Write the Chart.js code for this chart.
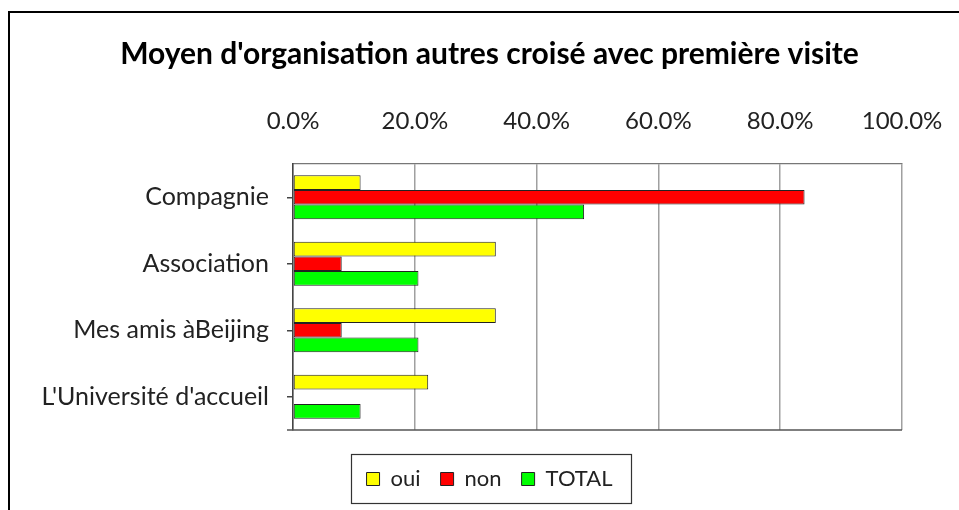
<!DOCTYPE html>
<html>
<head>
<meta charset="utf-8">
<script src="https://cdn.jsdelivr.net/npm/chart.js@4"></script>
<style>
  html, body { margin: 0; padding: 0; background: #fff; overflow: hidden; }
  #wrap { position: relative; width: 959px; height: 510px; }
  #frame { position: absolute; left: 8px; top: 11px; width: 1000px; height: 600px; border: 2px solid #000; box-sizing: border-box; }
  canvas { position: absolute; left: 0; top: 0; }
</style>
</head>
<body>
<div id="wrap">
  <div id="frame"></div>
  <canvas id="chart" width="959" height="510"></canvas>
</div>
<script>
const categories = ['Compagnie', 'Association', 'Mes amis àBeijing', "L'Université d'accueil"];
const seriesNames = ['oui', 'non', 'TOTAL'];
const ouiValues = [11.1, 33.3, 33.3, 22.2];
const nonValues = [84.0, 8.0, 8.0, 0];
const totalValues = [47.8, 20.6, 20.6, 11.1];
const seriesColors = ['#ffff00', '#ff0000', '#00ff00'];
const tickValues = [0, 20, 40, 60, 80, 100];

const FONT = 'Lato, "Open Sans", sans-serif';

// lines Excel draws that Chart.js doesn't: bottom edge of the plot, box round the legend
const extras = {
    id: 'extras',
    afterDraw(chart) {
        const ctx = chart.ctx;
        const a = chart.chartArea;
        ctx.save();
        ctx.strokeStyle = '#555';
        ctx.lineWidth = 1.5;
        ctx.beginPath();
        ctx.moveTo(a.left - 6, a.bottom);
        ctx.lineTo(a.right, a.bottom);
        ctx.stroke();

        const boxes = chart.legend.legendHitBoxes;
        if (boxes && boxes.length) {
            const x0 = Math.min(...boxes.map(b => b.left)) - 16;
            const x1 = Math.max(...boxes.map(b => b.left + b.width)) + 18;
            const y0 = Math.min(...boxes.map(b => b.top)) - 14;
            const y1 = Math.max(...boxes.map(b => b.top + b.height)) + 13;
            ctx.strokeStyle = '#333';
            ctx.lineWidth = 1.2;
            ctx.strokeRect(Math.round(x0) + 0.5, Math.round(y0) + 0.5, Math.round(x1 - x0), Math.round(y1 - y0));
        }
        ctx.restore();
    }
};

// invisible axes used only as spacers
const spacer = size => ({
    display: true,
    ticks: { display: false },
    grid: { display: false },
    border: { display: false },
    afterFit: scale => {
        if (scale.isHorizontal()) scale.height = size; else scale.width = size;
    }
});

new Chart(document.getElementById('chart'), {
    type: 'bar',
    data: {
        labels: categories,
        datasets: [ouiValues, nonValues, totalValues].map((values, i) => ({
            label: seriesNames[i],
            data: values,
            backgroundColor: seriesColors[i],
            borderColor: '#222',
            borderWidth: 1,
            borderSkipped: false,
            categoryPercentage: 0.66,
            barPercentage: 1.0
        }))
    },
    options: {
        indexAxis: 'y',
        responsive: false,
        animation: false,
        layout: { padding: { left: 20, right: 0, top: 36, bottom: 10 } },
        scales: {
            x: {
                position: 'top',
                min: 0,
                max: 100,
                afterBuildTicks: scale => { scale.ticks = tickValues.map(v => ({ value: v })); },
                afterFit: scale => {
                    scale.height = 92;
                    scale.paddingLeft = 0;
                    scale.paddingRight = 0;
                },
                ticks: {
                    padding: 28,
                    color: '#222',
                    font: { family: FONT, size: 24 },
                    callback: v => v.toFixed(1) + '%'
                },
                grid: { color: '#a0a0a0', lineWidth: 1.5, drawTicks: false },
                border: { color: '#777', width: 1.2 }
            },
            xBottom: Object.assign({ type: 'linear', position: 'bottom' }, spacer(18)),
            y: {
                afterFit: scale => { scale.width = 273; },
                ticks: {
                    padding: 18,
                    color: '#222',
                    font: { family: FONT, size: 25 }
                },
                grid: { offset: false, drawOnChartArea: false, tickLength: 6, color: '#444', lineWidth: 1.5 },
                border: { color: '#444', width: 1.5 }
            },
            yRight: Object.assign({ type: 'category', position: 'right' }, spacer(57))
        },
        plugins: {
            title: {
                display: true,
                text: "Moyen d'organisation autres croisé avec première visite",
                color: '#000',
                font: { family: FONT, size: 30, weight: 'bold' },
                padding: 0
            },
            legend: {
                position: 'bottom',
                labels: {
                    color: '#222',
                    font: { family: FONT, size: 22 },
                    boxWidth: 13,
                    boxHeight: 13,
                    padding: 20
                }
            },
            tooltip: { enabled: false }
        }
    },
    plugins: [extras]
});
</script>
</body>
</html>
